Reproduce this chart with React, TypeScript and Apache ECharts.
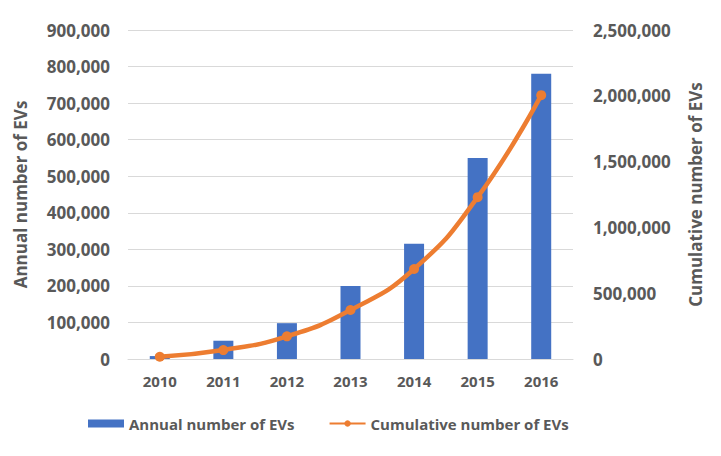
import React, { useEffect, useRef } from "react";
import * as echarts from "echarts";

const years = ["2010", "2011", "2012", "2013", "2014", "2015", "2016"];
const annual = [8000, 50000, 98000, 200000, 315000, 550000, 780000];
const cumulative = [17000, 68000, 172000, 372000, 684000, 1230000, 2005000];

const fmt = (v: number) => v.toLocaleString("en-US");
const textColor = "#595959";
const font = "Open Sans";

export default function App() {
  const ref = useRef<HTMLDivElement>(null);
  useEffect(() => {
    document.body.style.margin = "0";
    const chart = echarts.init(ref.current!, null, { renderer: "svg" });
    chart.setOption({
      animation: false,
      backgroundColor: "#ffffff",
      textStyle: { fontFamily: font },
      grid: { left: 128, right: 148, top: 30, bottom: 97 },
      legend: {
        bottom: 20,
        left: 83,
        itemGap: 34,
        itemWidth: 36,
        itemHeight: 8,
        textStyle: { color: textColor, fontSize: 15, fontWeight: "bold", fontFamily: font },
        data: [
          { name: "Annual number of EVs", icon: "rect" },
          { name: "Cumulative number of EVs" },
        ],
      },
      xAxis: {
        type: "category",
        data: years,
        axisTick: { show: false },
        axisLine: { lineStyle: { color: "#d9d9d9" } },
        axisLabel: { color: textColor, fontSize: 15, fontWeight: "bold", margin: 14 },
      },
      yAxis: [
        {
          type: "value",
          min: 0,
          max: 900000,
          interval: 100000,
          name: "Annual number of EVs",
          nameLocation: "middle",
          nameRotate: 90,
          nameGap: 99,
          nameTextStyle: { color: textColor, fontSize: 17, fontWeight: "bold" },
          axisLabel: { color: textColor, fontSize: 17, fontWeight: "bold", margin: 18, formatter: fmt },
          splitLine: { lineStyle: { color: "#d9d9d9" } },
          axisLine: { show: false },
          axisTick: { show: false },
        },
        {
          type: "value",
          min: 0,
          max: 2500000,
          interval: 500000,
          name: "Cumulative number of EVs",
          nameLocation: "middle",
          nameRotate: 90,
          nameGap: 114,
          nameTextStyle: { color: textColor, fontSize: 17, fontWeight: "bold" },
          axisLabel: { color: textColor, fontSize: 17, fontWeight: "bold", margin: 20, formatter: fmt },
          splitLine: { show: false },
          axisLine: { show: false },
          axisTick: { show: false },
        },
      ],
      series: [
        {
          name: "Annual number of EVs",
          type: "bar",
          data: annual,
          barWidth: 20,
          itemStyle: { color: "#4472c4" },
        },
        {
          name: "Cumulative number of EVs",
          type: "line",
          yAxisIndex: 1,
          data: cumulative,
          smooth: true,
          symbol: "circle",
          symbolSize: 10,
          lineStyle: { color: "#ed7d31", width: 4.5 },
          itemStyle: { color: "#ed7d31" },
        },
      ],
    });
    return () => chart.dispose();
  }, []);
  return <div ref={ref} style={{ width: 721, height: 456 }} />;
}
